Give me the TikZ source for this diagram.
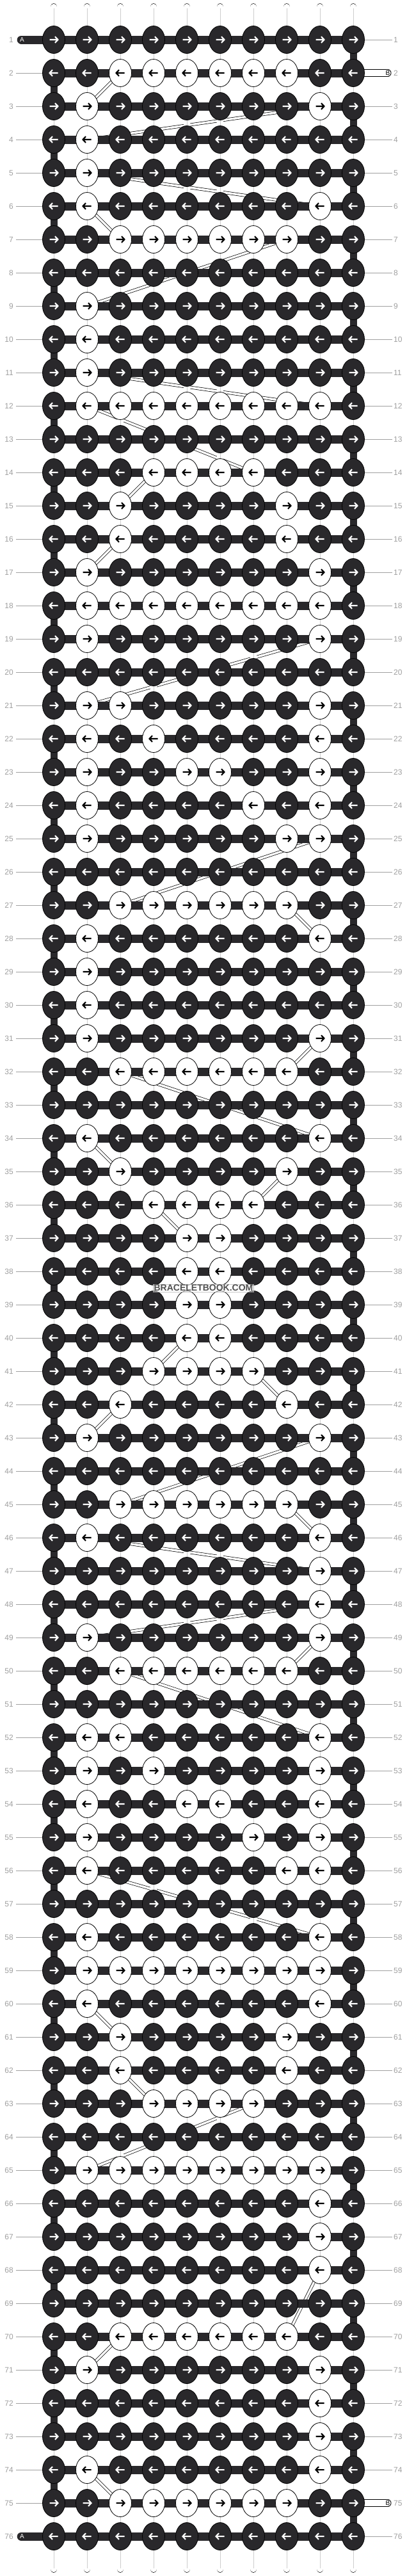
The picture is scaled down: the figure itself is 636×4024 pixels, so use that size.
\documentclass[tikz,border=0pt]{standalone}
\usepackage{fontspec}
\setmainfont{Liberation Sans}
\usetikzlibrary{shapes.geometric}
\pgfdeclarelayer{bandlayer}
\pgfdeclarelayer{stringlayer}
\pgfsetlayers{bandlayer,stringlayer,main}
\definecolor{kdark}{RGB}{41,40,43}
\definecolor{lblgray}{RGB}{160,160,160}
\definecolor{stripe}{RGB}{205,205,205}
\definecolor{wmtext}{RGB}{80,80,80}
\def\knotrows{%
{0,0,0,0,0,0,0,0,0,0},% 1
{0,0,1,1,1,1,1,1,0,0},% 2
{0,1,0,0,0,0,0,0,1,0},% 3
{0,1,0,0,0,0,0,0,0,0},% 4
{0,1,0,0,0,0,0,0,0,0},% 5
{0,1,0,0,0,0,0,0,1,0},% 6
{0,0,1,1,1,1,1,1,0,0},% 7
{0,0,0,0,0,0,0,0,0,0},% 8
{0,1,0,0,0,0,0,0,0,0},% 9
{0,1,0,0,0,0,0,0,0,0},% 10
{0,1,0,0,0,0,0,0,0,0},% 11
{0,1,1,1,1,1,1,1,1,0},% 12
{0,0,0,0,0,0,0,0,0,0},% 13
{0,0,0,1,1,1,1,0,0,0},% 14
{0,0,1,0,0,0,0,1,0,0},% 15
{0,0,1,0,0,0,0,1,0,0},% 16
{0,1,0,0,0,0,0,0,1,0},% 17
{0,1,1,1,1,1,1,1,1,0},% 18
{0,1,0,0,0,0,0,0,1,0},% 19
{0,0,0,0,0,0,0,0,0,0},% 20
{0,1,1,0,0,0,0,0,1,0},% 21
{0,1,0,1,0,0,0,0,1,0},% 22
{0,1,0,0,1,1,0,0,1,0},% 23
{0,1,0,0,0,0,1,0,1,0},% 24
{0,1,0,0,0,0,0,1,1,0},% 25
{0,0,0,0,0,0,0,0,0,0},% 26
{0,0,1,1,1,1,1,1,0,0},% 27
{0,1,0,0,0,0,0,0,1,0},% 28
{0,1,0,0,0,0,0,0,0,0},% 29
{0,1,0,0,0,0,0,0,0,0},% 30
{0,1,0,0,0,0,0,0,1,0},% 31
{0,0,1,1,1,1,1,1,0,0},% 32
{0,0,0,0,0,0,0,0,0,0},% 33
{0,1,0,0,0,0,0,0,1,0},% 34
{0,0,1,0,0,0,0,1,0,0},% 35
{0,0,0,1,1,1,1,0,0,0},% 36
{0,0,0,0,1,1,0,0,0,0},% 37
{0,0,0,0,1,1,0,0,0,0},% 38
{0,0,0,0,1,1,0,0,0,0},% 39
{0,0,0,0,1,1,0,0,0,0},% 40
{0,0,0,1,1,1,1,0,0,0},% 41
{0,0,1,0,0,0,0,1,0,0},% 42
{0,1,0,0,0,0,0,0,1,0},% 43
{0,0,0,0,0,0,0,0,0,0},% 44
{0,0,1,1,1,1,1,1,0,0},% 45
{0,1,0,0,0,0,0,0,1,0},% 46
{0,0,0,0,0,0,0,0,1,0},% 47
{0,0,0,0,0,0,0,0,1,0},% 48
{0,1,0,0,0,0,0,0,1,0},% 49
{0,0,1,1,1,1,1,1,0,0},% 50
{0,0,0,0,0,0,0,0,0,0},% 51
{0,1,1,0,0,0,0,0,1,0},% 52
{0,1,0,1,0,0,0,0,1,0},% 53
{0,1,0,0,1,1,0,0,1,0},% 54
{0,1,0,0,0,0,1,0,1,0},% 55
{0,1,0,0,0,0,0,1,1,0},% 56
{0,0,0,0,0,0,0,0,0,0},% 57
{0,1,0,0,0,0,0,0,1,0},% 58
{0,1,1,1,1,1,1,1,1,0},% 59
{0,1,0,0,0,0,0,0,1,0},% 60
{0,0,1,0,0,0,0,1,0,0},% 61
{0,0,1,0,0,0,0,1,0,0},% 62
{0,0,0,1,1,1,1,0,0,0},% 63
{0,0,0,0,0,0,0,0,0,0},% 64
{0,1,1,1,1,1,1,1,1,0},% 65
{0,0,0,0,0,0,0,0,1,0},% 66
{0,0,0,0,0,0,0,0,1,0},% 67
{0,0,0,0,0,0,0,0,1,0},% 68
{0,0,0,0,0,0,0,0,0,0},% 69
{0,0,1,1,1,1,1,1,0,0},% 70
{0,1,0,0,0,0,0,0,1,0},% 71
{0,0,0,0,0,0,0,0,1,0},% 72
{0,0,0,0,0,0,0,0,1,0},% 73
{0,1,0,0,0,0,0,0,1,0},% 74
{0,0,1,1,1,1,1,1,0,0},% 75
{0,0,0,0,0,0,0,0,0,0}% 76
}
\tikzset{
  knotb/.style={ellipse, draw=black, line width=0.8pt, fill=kdark,
    minimum width=35pt, minimum height=43pt, inner sep=0pt},
  knotw/.style={knotb, fill=white},
  arrowline/.style={line width=2.1pt, miter limit=10},
  hstring/.style={draw=kdark, line width=13pt},
  vblack/.style={draw=kdark, line width=11pt},
  vwhite/.style={draw=black, line width=0.75pt, double=white, double distance=9.2pt, line cap=round},
  vstripe/.style={draw=stripe, line width=1pt, shorten <=2pt, shorten >=2pt},
  tailb/.style={draw=black, line width=0.8pt, double=white, double distance=10.4pt, line cap=round},
  band/.style={draw=black, line width=0.7pt, double=white, double distance=3.4pt},
  lbl/.style={text=lblgray, font=\fontsize{12}{14}\selectfont, inner sep=1pt},
  lblline/.style={draw=lblgray, line width=0.9pt},
  tailtxt/.style={font=\fontsize{10}{12}\selectfont, inner sep=0pt},
  wmark/.style={font=\fontsize{14}{16}\selectfont\bfseries, text=wmtext,
    fill=white, fill opacity=0.45, text opacity=1, draw=gray!60, draw opacity=0.7,
    line width=0.5pt, inner sep=1.2pt}
}
\begin{document}
\begin{tikzpicture}[x=1pt,y=-1pt]
\useasboundingbox (0,0) rectangle (636,4024);
\begin{pgfonlayer}{bandlayer}
\fill[white] (0,0) rectangle (636,4024);
\end{pgfonlayer}
% knots
\foreach \rw [count=\ri] in \knotrows {
  \foreach \kval [count=\ci] in \rw {
    \pgfmathsetmacro\xx{84+52*(\ci-1)}
    \pgfmathsetmacro\yy{62+52*(\ri-1)}
    \expandafter\xdef\csname kv-\ri-\ci\endcsname{\kval}
    \ifnum\kval=1
      \node[knotw] (k-\ri-\ci) at (\xx,\yy) {};
      \def\acol{black}
    \else
      \node[knotb] (k-\ri-\ci) at (\xx,\yy) {};
      \def\acol{white}
    \fi
    \ifodd\ri
      \draw[arrowline,draw=\acol,shift={(k-\ri-\ci.center)}] (-6.5,0)--(6.5,0) (2,-4.8)--(6.5,0)--(2,4.8);
    \else
      \draw[arrowline,draw=\acol,shift={(k-\ri-\ci.center)}] (6.5,0)--(-6.5,0) (-2,-4.8)--(-6.5,0)--(-2,4.8);
    \fi
  }
}
% strings
\begin{pgfonlayer}{stringlayer}
\foreach \ci in {1,...,10} {
  \pgfmathsetmacro\xx{84+52*(\ci-1)}
  \coordinate (top-\ci) at (\xx,10.5);
  \coordinate (bot-\ci) at (\xx,4013.5);
  \draw[vwhite] (top-\ci) -- (bot-\ci);
  \draw[vstripe] (top-\ci) -- (bot-\ci);
}
\foreach \ri in {1,3,...,75} {
  \pgfmathtruncatemacro\rr{\ri+1}
  \draw[vblack] (k-\ri-10.center) -- (k-\rr-10.center);
}
\foreach \ri in {2,4,...,74} {
  \pgfmathtruncatemacro\rr{\ri+1}
  \draw[vblack] (k-\ri-1.center) -- (k-\rr-1.center);
}
\foreach \ri in {1,...,76} {
  \draw[hstring] (k-\ri-1.center) -- (k-\ri-10.center);
}
% tails
\coordinate (tailA-1) at (33.2,62);
\coordinate (tailA-76) at (33.2,3962);
\draw[hstring, line cap=round] (tailA-1) -- (k-1-1.center);
\draw[hstring, line cap=round] (tailA-76) -- (k-76-1.center);
\coordinate (tailB-2) at (605.5,114);
\coordinate (tailB-75) at (605.5,3910);
\draw[tailb] (k-2-10.center) -- (tailB-2);
\draw[tailb] (k-75-10.center) -- (tailB-75);
\end{pgfonlayer}
\node[tailtxt, text=white] (A-1) at (34.5,62) {A};
\node[tailtxt, text=white] (A-76) at (34.5,3962) {A};
\node[tailtxt, text=black] (B-2) at (606,114) {B};
\node[tailtxt, text=black] (B-75) at (606,3910) {B};
% labels
\foreach \ri in {1,...,76} {
  \pgfmathsetmacro\yy{62+52*(\ri-1)}
  \node[lbl, anchor=east] (L-\ri) at (22,\yy) {\ri};
  \node[lbl, anchor=west] (R-\ri) at (614,\yy) {\ri};
}
\foreach \ri in {2,...,75} {
  \draw[lblline, shorten <=3pt] (L-\ri) -- (k-\ri-1);
}
\foreach \ri in {1,3,4,...,74,76} {
  \draw[lblline, shorten >=1pt] (k-\ri-10) -- (R-\ri);
}
% bands: path of the light thread between white knots
\gdef\prevr{0}\gdef\prevc{0}
\foreach \ri in {1,...,76} {
  \foreach \kk in {1,...,10} {
    \ifodd\ri \edef\cc{\kk}\else \pgfmathtruncatemacro\cc{11-\kk}\fi
    \ifnum\csname kv-\ri-\cc\endcsname=1
      \ifnum\prevr>0
        \ifnum\prevr<\ri
          \begin{pgfonlayer}{bandlayer}
          \draw[band] (k-\prevr-\prevc.center) -- (k-\ri-\cc.center);
          \end{pgfonlayer}
        \fi
      \fi
      \xdef\prevr{\ri}\xdef\prevc{\cc}
    \fi
  }
}
\node[wmark] (wm) at (318,2012) {BRACELETBOOK.COM};
\end{tikzpicture}
\end{document}
